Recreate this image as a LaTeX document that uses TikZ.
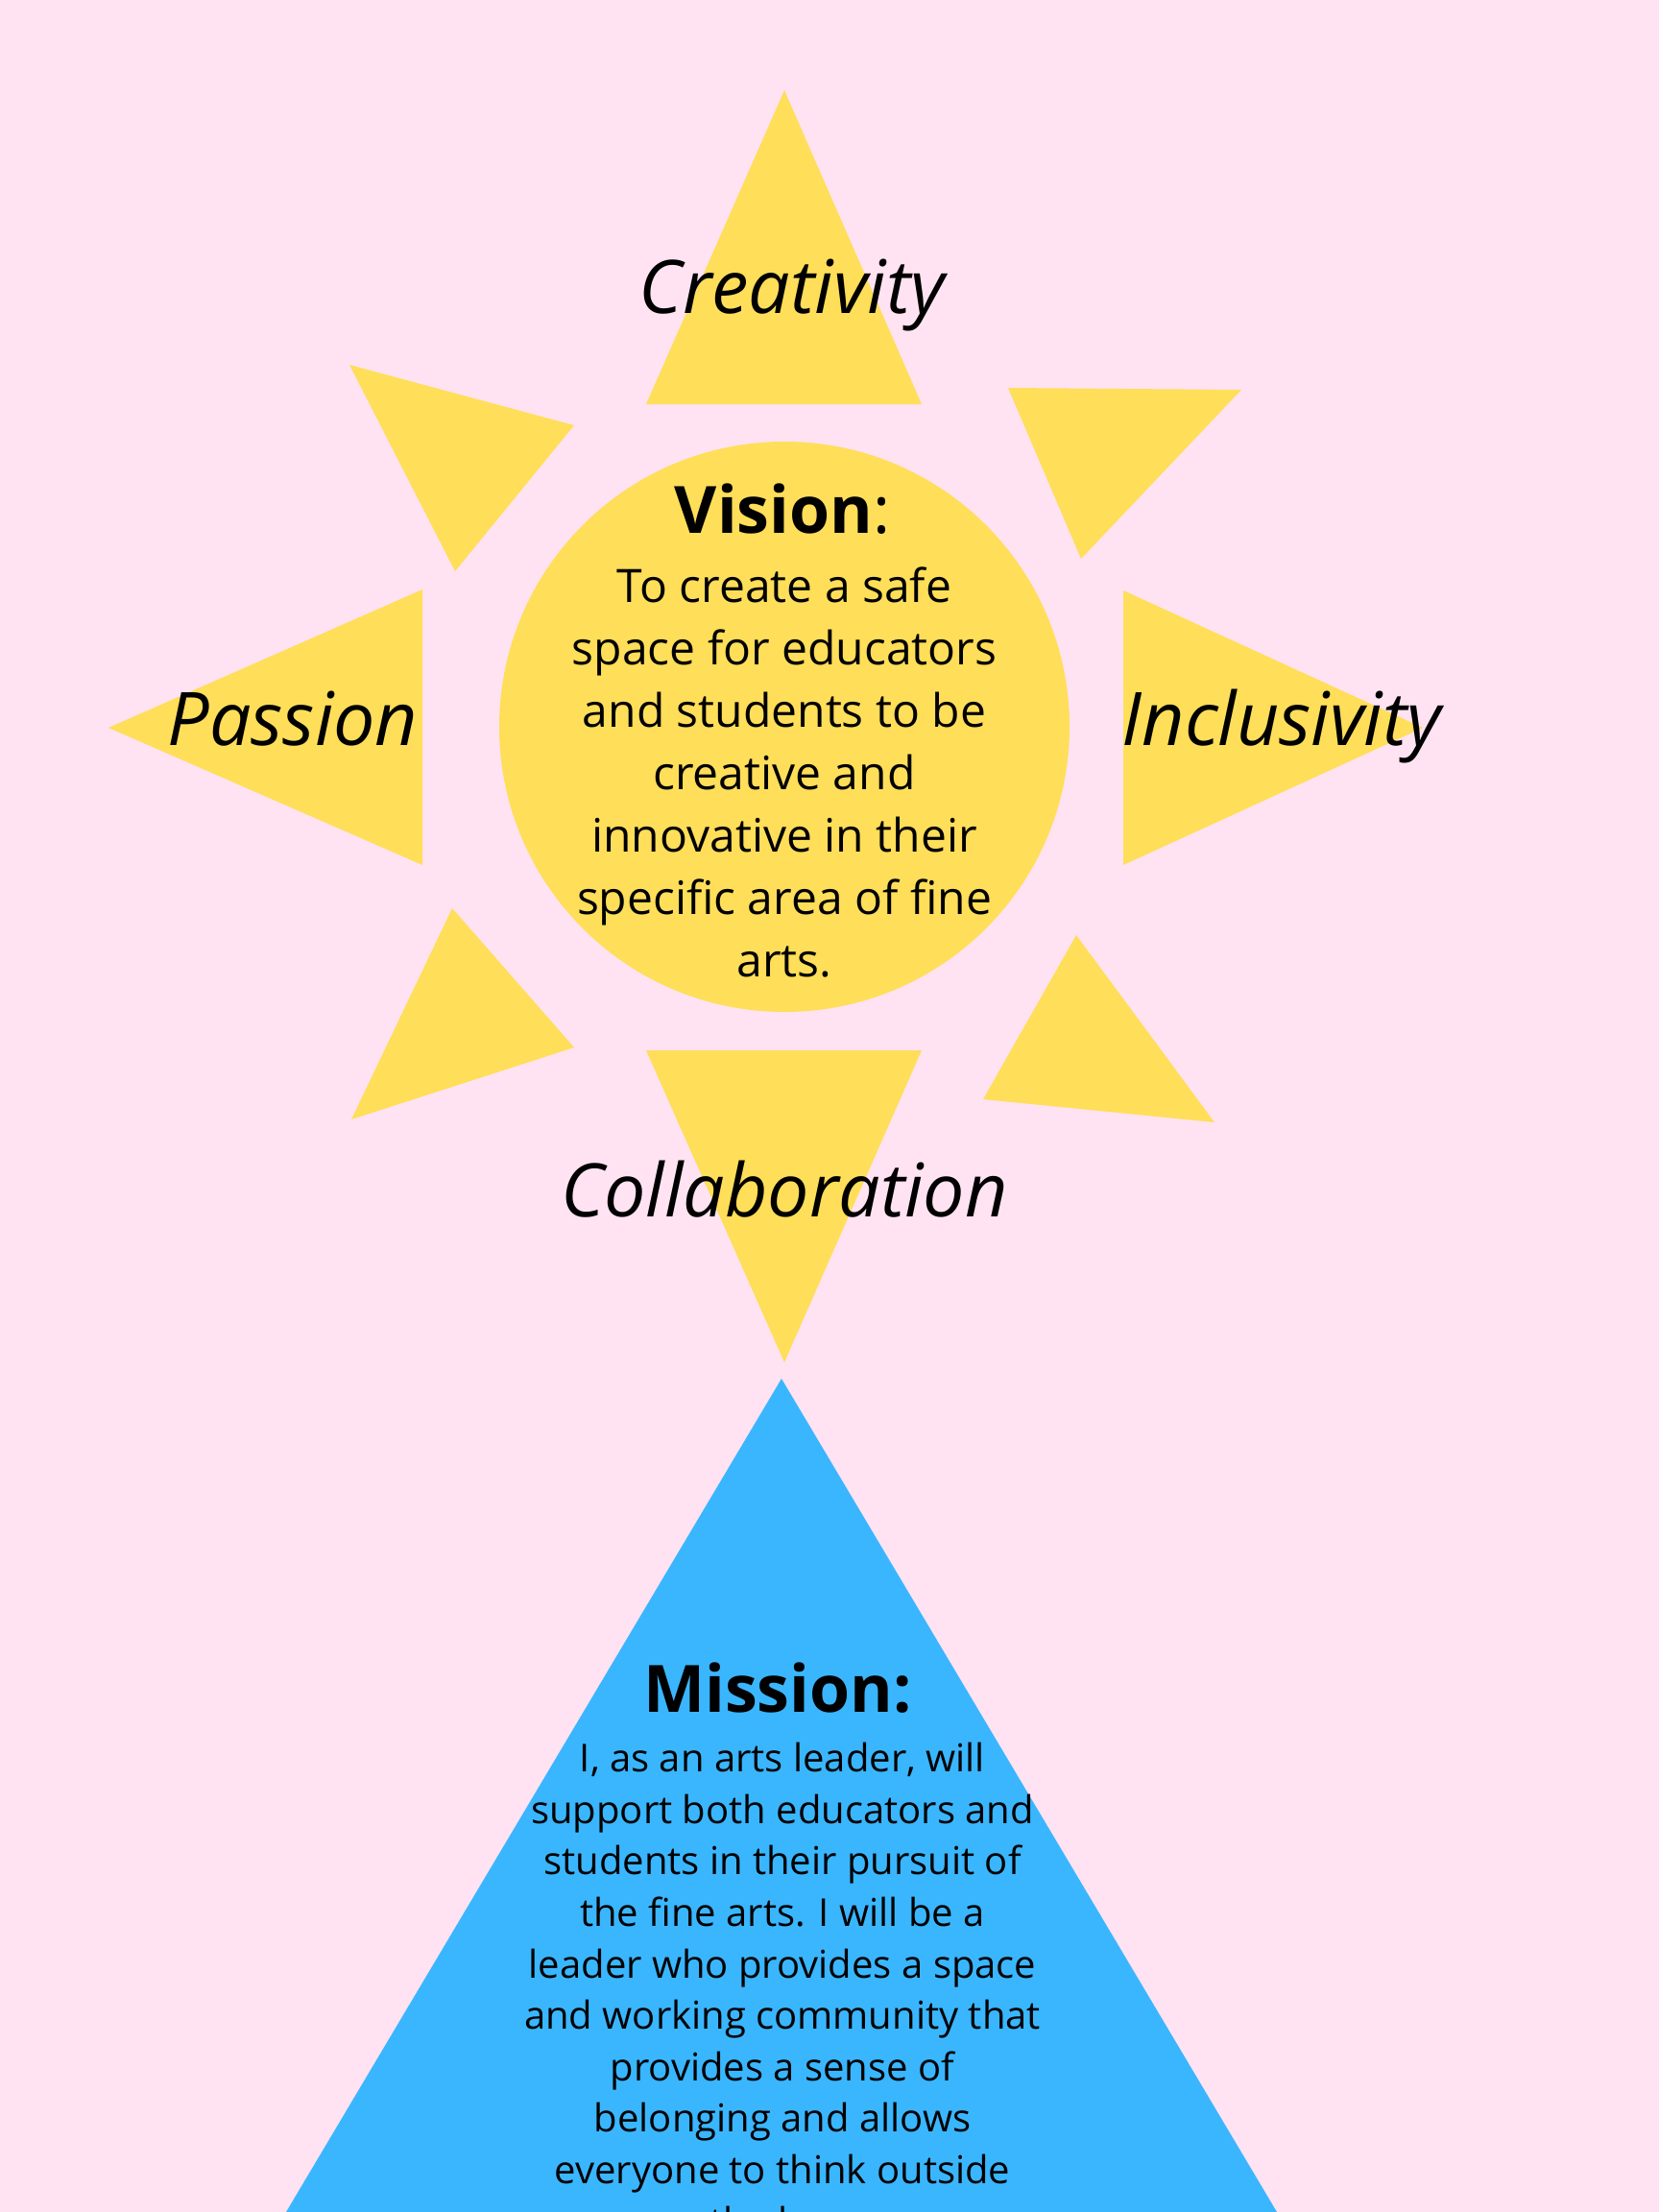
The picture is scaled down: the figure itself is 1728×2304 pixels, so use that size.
\documentclass[tikz,border=0pt]{standalone}
\usepackage{fontspec}
\setmainfont{Open Sans}
\usepackage{xcolor}
\definecolor{bgpink}{HTML}{FFE3F2}
\definecolor{sunyellow}{HTML}{FFDE59}
\definecolor{skyblue}{HTML}{3AB6FF}
\begin{document}
\begin{tikzpicture}[x=1pt,y=-1pt,
  ray/.style={fill=sunyellow},
  value/.style={anchor=base,inner sep=0pt,font=\fontsize{77}{90}\selectfont\itshape},
  heading/.style={anchor=base,inner sep=0pt,font=\fontsize{68}{80}\selectfont},
  vtext/.style={anchor=base,inner sep=0pt,align=center,font=\fontsize{48}{65}\selectfont},
  mtext/.style={anchor=base,inner sep=0pt,align=center,font=\fontsize{40}{53.6}\selectfont}]
\fill[bgpink] (0,0) rectangle (1728,2304);
\useasboundingbox (0,0) rectangle (1728,2304);
% sun
\fill[ray] (817,94) -- (673,421) -- (960,421) -- cycle;
\fill[ray] (364,380) -- (598,443) -- (474,595) -- cycle;
\fill[ray] (1050,404) -- (1293,406) -- (1126,582) -- cycle;
\fill[ray] (113,758) -- (440,614) -- (440,901) -- cycle;
\fill[ray] (1170,615) -- (1482,758) -- (1170,901) -- cycle;
\fill[ray] (471,946) -- (598,1091) -- (366,1166) -- cycle;
\fill[ray] (1121,974) -- (1265,1169) -- (1024,1145) -- cycle;
\fill[ray] (673,1094) -- (960,1094) -- (817,1419) -- cycle;
\fill[ray] (817,757) circle (297);
% mission
\fill[skyblue] (814,1436) -- (1330,2304) -- (298,2304) -- cycle;
\node(creativity) at (825,326)[value]{Creativity};
\node(passion) at (305,776)[value]{Passion};
\node(inclusivity) at (1335,776)[value]{Inclusivity};
\node(collaboration) at (817,1267)[value]{Collaboration};
\node(vision) at (815,555)[heading]{\textbf{Vision}:};
% base anchor sits on the last line
\node(visiontext) at (817,1017)[vtext]{To create a safe\\space for educators\\and students to be\\creative and\\innovative in their\\specific area of fine\\arts.};
\node(mission) at (810,1783)[heading]{\textbf{Mission:}};
\node(missiontext) at (815,2328)[mtext]{I, as an arts leader, will\\support both educators and\\students in their pursuit of\\the fine arts. I will be a\\leader who provides a space\\and working community that\\provides a sense of\\belonging and allows\\everyone to think outside\\the box.};
\end{tikzpicture}
\end{document}
